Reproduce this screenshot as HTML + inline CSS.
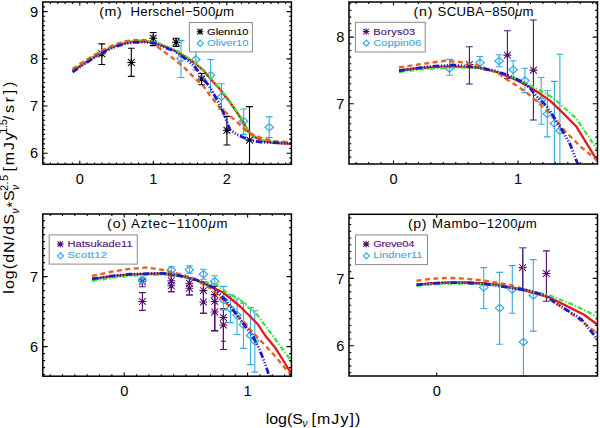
<!DOCTYPE html><html><head><meta charset="utf-8"><style>html,body{margin:0;padding:0;background:#fff}svg{display:block}</style></head><body><svg width="600" height="428" viewBox="0 0 600 428">
<style>text{font-family:"Liberation Sans",sans-serif}.tk{font-size:14.6px}.tt{font-size:12.7px}.lg{font-size:9.9px;stroke-width:0.12px}.ax{font-size:14.5px}.sb{font-size:10px}</style>
<rect width="600" height="428" fill="#fff"/>
<clipPath id="cm"><rect x="42.8" y="2.0" width="248.59999999999997" height="162.3"/></clipPath>
<clipPath id="cn"><rect x="349.0" y="2.0" width="248.5" height="162.0"/></clipPath>
<clipPath id="co"><rect x="42.8" y="214.0" width="248.59999999999997" height="162.2"/></clipPath>
<clipPath id="cp"><rect x="349.0" y="214.3" width="248.5" height="161.7"/></clipPath>
<path d="M101.8 43.9V64.5M98.39999999999999 43.9h6.8M98.39999999999999 64.5h6.8" stroke="#000" stroke-width="1.1" fill="none"/>
<path d="M98.20 53.70h7.20M101.80 50.10v7.20M98.70 50.60l6.19 6.19M98.70 56.80l6.19 -6.19" stroke="#000" stroke-width="1.05" fill="none" stroke-linecap="round"/><circle cx="101.80" cy="53.70" r="1.5" fill="#000"/>
<path d="M131.3 48.2V76.4M127.9 48.2h6.8M127.9 76.4h6.8" stroke="#000" stroke-width="1.1" fill="none"/>
<path d="M127.70 62.50h7.20M131.30 58.90v7.20M128.20 59.40l6.19 6.19M128.20 65.60l6.19 -6.19" stroke="#000" stroke-width="1.05" fill="none" stroke-linecap="round"/><circle cx="131.30" cy="62.50" r="1.5" fill="#000"/>
<path d="M153.2 32.5V45.6M149.79999999999998 32.5h6.8M149.79999999999998 45.6h6.8" stroke="#000" stroke-width="1.1" fill="none"/>
<path d="M149.60 38.30h7.20M153.20 34.70v7.20M150.10 35.20l6.19 6.19M150.10 41.40l6.19 -6.19" stroke="#000" stroke-width="1.05" fill="none" stroke-linecap="round"/><circle cx="153.20" cy="38.30" r="1.5" fill="#000"/>
<path d="M176.1 38.2V46.4M172.7 38.2h6.8M172.7 46.4h6.8" stroke="#000" stroke-width="1.1" fill="none"/>
<path d="M172.50 42.30h7.20M176.10 38.70v7.20M173.00 39.20l6.19 6.19M173.00 45.40l6.19 -6.19" stroke="#000" stroke-width="1.05" fill="none" stroke-linecap="round"/><circle cx="176.10" cy="42.30" r="1.5" fill="#000"/>
<path d="M201.6 73.5V84.8M198.2 73.5h6.8M198.2 84.8h6.8" stroke="#000" stroke-width="1.1" fill="none"/>
<path d="M198.00 79.00h7.20M201.60 75.40v7.20M198.50 75.90l6.19 6.19M198.50 82.10l6.19 -6.19" stroke="#000" stroke-width="1.05" fill="none" stroke-linecap="round"/><circle cx="201.60" cy="79.00" r="1.5" fill="#000"/>
<path d="M226.9 116.4V145.0M223.5 116.4h6.8M223.5 145.0h6.8" stroke="#000" stroke-width="1.1" fill="none"/>
<path d="M223.30 130.30h7.20M226.90 126.70v7.20M223.80 127.20l6.19 6.19M223.80 133.40l6.19 -6.19" stroke="#000" stroke-width="1.05" fill="none" stroke-linecap="round"/><circle cx="226.90" cy="130.30" r="1.5" fill="#000"/>
<path d="M249.5 106.6V164.3M246.1 106.6h6.8M246.1 164.3h6.8" stroke="#000" stroke-width="1.1" fill="none"/>
<path d="M245.90 140.10h7.20M249.50 136.50v7.20M246.40 137.00l6.19 6.19M246.40 143.20l6.19 -6.19" stroke="#000" stroke-width="1.05" fill="none" stroke-linecap="round"/><circle cx="249.50" cy="140.10" r="1.5" fill="#000"/>
<path d="M181.0 40.6V77.5M177.6 40.6h6.8M177.6 77.5h6.8" stroke="#36a9e1" stroke-width="1.1" fill="none"/>
<path d="M176.8 58.6L181.0 54.9L185.2 58.6L181.0 62.300000000000004Z" stroke="#36a9e1" stroke-width="1.2" fill="none"/>
<path d="M195.8 48.0V70.1M192.4 48.0h6.8M192.4 70.1h6.8" stroke="#36a9e1" stroke-width="1.1" fill="none"/>
<path d="M191.60000000000002 59.5L195.8 55.8L200.0 59.5L195.8 63.2Z" stroke="#36a9e1" stroke-width="1.2" fill="none"/>
<path d="M210.6 59.5V92.5M207.2 59.5h6.8M207.2 92.5h6.8" stroke="#36a9e1" stroke-width="1.1" fill="none"/>
<path d="M206.4 75.3L210.6 71.6L214.79999999999998 75.3L210.6 79.0Z" stroke="#36a9e1" stroke-width="1.2" fill="none"/>
<path d="M221.4 83.7V109.1M218.0 83.7h6.8M218.0 109.1h6.8" stroke="#36a9e1" stroke-width="1.1" fill="none"/>
<path d="M217.20000000000002 96.8L221.4 93.1L225.6 96.8L221.4 100.5Z" stroke="#36a9e1" stroke-width="1.2" fill="none"/>
<path d="M243.6 109.0V134.4M240.2 109.0h6.8M240.2 134.4h6.8" stroke="#36a9e1" stroke-width="1.1" fill="none"/>
<path d="M239.4 121.3L243.6 117.6L247.79999999999998 121.3L243.6 125.0Z" stroke="#36a9e1" stroke-width="1.2" fill="none"/>
<path d="M269.2 116.9V137.6M265.8 116.9h6.8M265.8 137.6h6.8" stroke="#36a9e1" stroke-width="1.1" fill="none"/>
<path d="M265.0 127.3L269.2 123.6L273.4 127.3L269.2 131.0Z" stroke="#36a9e1" stroke-width="1.2" fill="none"/>
<g clip-path="url(#cm)" fill="none" stroke-linejoin="round">
<path d="M72.5 71.2 L82.0 64.8 L92.0 58.3 L102.0 52.3 L110.0 48.2 L118.0 45.0 L126.0 42.8 L134.0 41.6 L145.0 41.3 L154.8 42.8 L164.6 46.4 L174.5 50.5 L184.3 56.2 L194.1 62.7 L203.9 70.9 L213.7 82.4 L219.6 88.8 L229.5 101.5 L236.4 111.5 L242.9 121.3 L247.8 131.1 L252.7 136.0 L262.6 140.9 L274.0 142.9 L292.0 143.9" stroke="#e31a1c" stroke-width="2.3"/>
<path d="M72.5 70.4 L82.0 64.0 L92.0 57.5 L102.0 51.5 L110.0 47.4 L118.0 44.2 L126.0 42.0 L134.0 40.8 L145.0 40.5 L154.8 42.0 L164.6 45.6 L174.5 49.7 L184.3 55.4 L194.1 61.9 L203.9 70.1 L213.7 81.6 L219.6 88.0 L229.5 100.7 L236.4 110.7 L242.9 120.5 L247.8 130.3 L252.7 135.2 L262.6 140.1 L274.0 142.1 L292.0 143.1" stroke="#3ee23a" stroke-width="2.3" stroke-dasharray="5 2 1.3 2"/>
<path d="M72.5 69.0 L82.0 62.7 L92.0 56.3 L102.0 50.5 L110.0 46.5 L118.0 43.4 L126.0 41.2 L134.0 40.1 L145.0 40.0 L154.8 44.7 L164.6 52.1 L174.5 59.5 L184.3 67.6 L194.1 77.5 L203.9 86.6 L209.8 95.2 L219.6 107.5 L226.5 113.0 L236.4 121.3 L246.2 131.1 L252.7 134.4 L262.6 138.5 L275.6 141.2 L292.0 142.6" stroke="#e8621e" stroke-width="2.4" stroke-dasharray="5 3.5"/>
<path d="M72.5 72.0 L82.0 65.6 L92.0 59.1 L102.0 53.1 L110.0 49.0 L118.0 45.8 L126.0 43.6 L134.0 42.4 L145.0 42.1 L154.8 43.3 L174.5 51.3 L184.3 57.8 L194.1 66.0 L203.9 79.1 L209.8 87.2 L219.6 104.2 L224.9 116.4 L229.8 129.5 L236.4 134.4 L249.5 140.1 L260.9 142.2 L292.0 143.4" stroke="#1a1acc" stroke-width="2.8" stroke-dasharray="6.5 1.8 1.1 1.8 1.1 1.8 1.1 1.8"/>
</g>
<rect x="189.4" y="22.5" width="63.0" height="29.4" fill="#fff" stroke="#8a8a8a" stroke-width="1"/>
<path d="M197.10 31.70h5.80M200.00 28.80v5.80M197.51 29.21l4.99 4.99M197.51 34.19l4.99 -4.99" stroke="#000" stroke-width="1.05" fill="none" stroke-linecap="round"/><circle cx="200.00" cy="31.70" r="1.5" fill="#000"/>
<path d="M197.2 43.4L200.2 40.4L203.2 43.4L200.2 46.4Z" stroke="#36a9e1" stroke-width="1.2" fill="none"/>
<text transform="translate(207.10,34.80) scale(1.13,1)" class="lg" fill="#000" stroke="#000" textLength="36.64" lengthAdjust="spacing">Glenn10</text>
<text transform="translate(207.10,45.90) scale(1.13,1)" class="lg" fill="#36a9e1" stroke="#36a9e1" textLength="36.64" lengthAdjust="spacing">Oliver10</text>
<text transform="translate(99.30,16.1) scale(1.12,1)" class="tt" textLength="20.00" lengthAdjust="spacing">(m)</text>
<text transform="translate(130.50,16.1) scale(1.04,1)" class="tt" textLength="99.52" lengthAdjust="spacing">Herschel−500<tspan font-style="italic">μ</tspan>m</text>
<path d="M469.4 46.7V84.0M466.0 46.7h6.8M466.0 84.0h6.8" stroke="#530f70" stroke-width="1.1" fill="none"/>
<path d="M465.80 64.50h7.20M469.40 60.90v7.20M466.30 61.40l6.19 6.19M466.30 67.60l6.19 -6.19" stroke="#530f70" stroke-width="1.05" fill="none" stroke-linecap="round"/><circle cx="469.40" cy="64.50" r="1.5" fill="#530f70"/>
<path d="M507.4 30.7V78.5M504.0 30.7h6.8M504.0 78.5h6.8" stroke="#530f70" stroke-width="1.1" fill="none"/>
<path d="M503.80 55.10h7.20M507.40 51.50v7.20M504.30 52.00l6.19 6.19M504.30 58.20l6.19 -6.19" stroke="#530f70" stroke-width="1.05" fill="none" stroke-linecap="round"/><circle cx="507.40" cy="55.10" r="1.5" fill="#530f70"/>
<path d="M533.4 20.0V120.0M530.0 20.0h6.8M530.0 120.0h6.8" stroke="#530f70" stroke-width="1.1" fill="none"/>
<path d="M529.80 70.10h7.20M533.40 66.50v7.20M530.30 67.00l6.19 6.19M530.30 73.20l6.19 -6.19" stroke="#530f70" stroke-width="1.05" fill="none" stroke-linecap="round"/><circle cx="533.40" cy="70.10" r="1.5" fill="#530f70"/>
<path d="M449.6 59.4V75.2M446.20000000000005 59.4h6.8M446.20000000000005 75.2h6.8" stroke="#36a9e1" stroke-width="1.1" fill="none"/>
<path d="M445.40000000000003 68.5L449.6 64.8L453.8 68.5L449.6 72.2Z" stroke="#36a9e1" stroke-width="1.2" fill="none"/>
<path d="M480.0 56.5V68.0M476.6 56.5h6.8M476.6 68.0h6.8" stroke="#36a9e1" stroke-width="1.1" fill="none"/>
<path d="M475.8 62.7L480.0 59.0L484.2 62.7L480.0 66.4Z" stroke="#36a9e1" stroke-width="1.2" fill="none"/>
<path d="M499.1 54.7V66.7M495.70000000000005 54.7h6.8M495.70000000000005 66.7h6.8" stroke="#36a9e1" stroke-width="1.1" fill="none"/>
<path d="M494.90000000000003 61.0L499.1 57.3L503.3 61.0L499.1 64.7Z" stroke="#36a9e1" stroke-width="1.2" fill="none"/>
<path d="M513.2 60.7V78.3M509.80000000000007 60.7h6.8M509.80000000000007 78.3h6.8" stroke="#36a9e1" stroke-width="1.1" fill="none"/>
<path d="M509.00000000000006 69.7L513.2 66.0L517.4000000000001 69.7L513.2 73.4Z" stroke="#36a9e1" stroke-width="1.2" fill="none"/>
<path d="M524.9 68.2V92.6M521.5 68.2h6.8M521.5 92.6h6.8" stroke="#36a9e1" stroke-width="1.1" fill="none"/>
<path d="M520.6999999999999 80.6L524.9 76.89999999999999L529.1 80.6L524.9 84.3Z" stroke="#36a9e1" stroke-width="1.2" fill="none"/>
<path d="M541.2 77.5V124.3M537.8000000000001 77.5h6.8M537.8000000000001 124.3h6.8" stroke="#36a9e1" stroke-width="1.1" fill="none"/>
<path d="M537.0 100.5L541.2 96.8L545.4000000000001 100.5L541.2 104.2Z" stroke="#36a9e1" stroke-width="1.2" fill="none"/>
<path d="M547.3 90.7V136.9M543.9 90.7h6.8M543.9 136.9h6.8" stroke="#36a9e1" stroke-width="1.1" fill="none"/>
<path d="M543.0999999999999 113.9L547.3 110.2L551.5 113.9L547.3 117.60000000000001Z" stroke="#36a9e1" stroke-width="1.2" fill="none"/>
<path d="M554.4 81.4V164.0M551.0 81.4h6.8M551.0 164.0h6.8" stroke="#36a9e1" stroke-width="1.1" fill="none"/>
<path d="M550.1999999999999 123.5L554.4 119.8L558.6 123.5L554.4 127.2Z" stroke="#36a9e1" stroke-width="1.2" fill="none"/>
<path d="M559.9 54.2V164.0M556.5 54.2h6.8M556.5 164.0h6.8" stroke="#36a9e1" stroke-width="1.1" fill="none"/>
<path d="M555.6999999999999 130.7L559.9 126.99999999999999L564.1 130.7L559.9 134.39999999999998Z" stroke="#36a9e1" stroke-width="1.2" fill="none"/>
<g clip-path="url(#cn)" fill="none" stroke-linejoin="round">
<path d="M399.0 70.5 L420.0 68.0 L449.0 66.3 L480.0 67.6 L498.2 72.5 L515.0 79.5 L530.5 87.3 L550.0 100.6 L560.0 110.1 L576.1 126.2 L598.0 162.0" stroke="#e31a1c" stroke-width="2.3"/>
<path d="M399.0 72.0 L420.0 69.5 L449.0 67.5 L480.0 67.8 L498.2 72.3 L515.0 78.5 L530.0 85.5 L540.0 90.5 L550.0 96.0 L556.0 100.5 L576.1 118.2 L598.0 151.0" stroke="#3ee23a" stroke-width="2.3" stroke-dasharray="5 2 1.3 2"/>
<path d="M399.0 67.5 L420.0 64.2 L445.0 60.8 L458.3 61.7 L470.0 64.2 L481.7 66.7 L498.2 73.2 L508.0 80.2 L519.3 87.3 L530.5 95.7 L544.5 108.3 L552.0 116.1 L566.1 132.2 L580.2 146.3 L598.0 161.0" stroke="#e8621e" stroke-width="2.4" stroke-dasharray="5 3.5"/>
<path d="M399.0 70.8 L428.3 66.7 L453.3 65.0 L470.0 66.7 L495.0 70.8 L510.0 76.0 L522.0 81.6 L530.0 88.0 L536.0 95.7 L540.0 99.5 L547.3 107.0 L552.0 114.0 L562.1 130.2 L570.1 144.3 L577.1 162.3 L579.0 167.0" stroke="#1a1acc" stroke-width="2.8" stroke-dasharray="6.5 1.8 1.1 1.8 1.1 1.8 1.1 1.8"/>
</g>
<rect x="355.4" y="22.3" width="69.80000000000001" height="29.7" fill="#fff" stroke="#8a8a8a" stroke-width="1"/>
<path d="M363.20 31.50h5.80M366.10 28.60v5.80M363.61 29.01l4.99 4.99M363.61 33.99l4.99 -4.99" stroke="#530f70" stroke-width="1.05" fill="none" stroke-linecap="round"/><circle cx="366.10" cy="31.50" r="1.5" fill="#530f70"/>
<path d="M363.3 43.2L366.3 40.2L369.3 43.2L366.3 46.2Z" stroke="#36a9e1" stroke-width="1.2" fill="none"/>
<text transform="translate(373.20,34.60) scale(1.13,1)" class="lg" fill="#530f70" stroke="#530f70" textLength="37.26" lengthAdjust="spacing">Borys03</text>
<text transform="translate(373.20,45.70) scale(1.13,1)" class="lg" fill="#36a9e1" stroke="#36a9e1" textLength="42.57" lengthAdjust="spacing">Coppin06</text>
<text transform="translate(413.60,16.1) scale(1.12,1)" class="tt" textLength="16.79" lengthAdjust="spacing">(n)</text>
<text transform="translate(437.60,16.1) scale(1.04,1)" class="tt" textLength="92.31" lengthAdjust="spacing">SCUBA−850<tspan font-style="italic">μ</tspan>m</text>
<path d="M142.4 279.0V286.7M139.0 279.0h6.8M139.0 286.7h6.8" stroke="#530f70" stroke-width="1.1" fill="none"/>
<path d="M138.80 281.70h7.20M142.40 278.10v7.20M139.30 278.60l6.19 6.19M139.30 284.80l6.19 -6.19" stroke="#530f70" stroke-width="1.05" fill="none" stroke-linecap="round"/><circle cx="142.40" cy="281.70" r="1.5" fill="#530f70"/>
<path d="M142.4 292.6V310.4M139.0 292.6h6.8M139.0 310.4h6.8" stroke="#530f70" stroke-width="1.1" fill="none"/>
<path d="M138.80 301.40h7.20M142.40 297.80v7.20M139.30 298.30l6.19 6.19M139.30 304.50l6.19 -6.19" stroke="#530f70" stroke-width="1.05" fill="none" stroke-linecap="round"/><circle cx="142.40" cy="301.40" r="1.5" fill="#530f70"/>
<path d="M171.3 275.8V291.7M167.9 275.8h6.8M167.9 291.7h6.8" stroke="#530f70" stroke-width="1.1" fill="none"/>
<path d="M167.70 280.80h7.20M171.30 277.20v7.20M168.20 277.70l6.19 6.19M168.20 283.90l6.19 -6.19" stroke="#530f70" stroke-width="1.05" fill="none" stroke-linecap="round"/><circle cx="171.30" cy="280.80" r="1.5" fill="#530f70"/>
<path d="M171.3 275.8V291.7M167.9 275.8h6.8M167.9 291.7h6.8" stroke="#530f70" stroke-width="1.1" fill="none"/>
<path d="M167.70 285.80h7.20M171.30 282.20v7.20M168.20 282.70l6.19 6.19M168.20 288.90l6.19 -6.19" stroke="#530f70" stroke-width="1.05" fill="none" stroke-linecap="round"/><circle cx="171.30" cy="285.80" r="1.5" fill="#530f70"/>
<path d="M189.4 278.3V295.0M186.0 278.3h6.8M186.0 295.0h6.8" stroke="#530f70" stroke-width="1.1" fill="none"/>
<path d="M185.80 283.30h7.20M189.40 279.70v7.20M186.30 280.20l6.19 6.19M186.30 286.40l6.19 -6.19" stroke="#530f70" stroke-width="1.05" fill="none" stroke-linecap="round"/><circle cx="189.40" cy="283.30" r="1.5" fill="#530f70"/>
<path d="M189.4 278.3V295.0M186.0 278.3h6.8M186.0 295.0h6.8" stroke="#530f70" stroke-width="1.1" fill="none"/>
<path d="M185.80 288.30h7.20M189.40 284.70v7.20M186.30 285.20l6.19 6.19M186.30 291.40l6.19 -6.19" stroke="#530f70" stroke-width="1.05" fill="none" stroke-linecap="round"/><circle cx="189.40" cy="288.30" r="1.5" fill="#530f70"/>
<path d="M203.4 281.7V313.3M200.0 281.7h6.8M200.0 313.3h6.8" stroke="#530f70" stroke-width="1.1" fill="none"/>
<path d="M199.80 290.60h7.20M203.40 287.00v7.20M200.30 287.50l6.19 6.19M200.30 293.70l6.19 -6.19" stroke="#530f70" stroke-width="1.05" fill="none" stroke-linecap="round"/><circle cx="203.40" cy="290.60" r="1.5" fill="#530f70"/>
<path d="M203.4 281.7V313.3M200.0 281.7h6.8M200.0 313.3h6.8" stroke="#530f70" stroke-width="1.1" fill="none"/>
<path d="M199.80 302.00h7.20M203.40 298.40v7.20M200.30 298.90l6.19 6.19M200.30 305.10l6.19 -6.19" stroke="#530f70" stroke-width="1.05" fill="none" stroke-linecap="round"/><circle cx="203.40" cy="302.00" r="1.5" fill="#530f70"/>
<path d="M214.7 286.5V330.6M211.29999999999998 286.5h6.8M211.29999999999998 330.6h6.8" stroke="#530f70" stroke-width="1.1" fill="none"/>
<path d="M211.10 294.60h7.20M214.70 291.00v7.20M211.60 291.50l6.19 6.19M211.60 297.70l6.19 -6.19" stroke="#530f70" stroke-width="1.05" fill="none" stroke-linecap="round"/><circle cx="214.70" cy="294.60" r="1.5" fill="#530f70"/>
<path d="M214.7 286.5V330.6M211.29999999999998 286.5h6.8M211.29999999999998 330.6h6.8" stroke="#530f70" stroke-width="1.1" fill="none"/>
<path d="M211.10 301.40h7.20M214.70 297.80v7.20M211.60 298.30l6.19 6.19M211.60 304.50l6.19 -6.19" stroke="#530f70" stroke-width="1.05" fill="none" stroke-linecap="round"/><circle cx="214.70" cy="301.40" r="1.5" fill="#530f70"/>
<path d="M214.7 286.5V330.6M211.29999999999998 286.5h6.8M211.29999999999998 330.6h6.8" stroke="#530f70" stroke-width="1.1" fill="none"/>
<path d="M211.10 312.00h7.20M214.70 308.40v7.20M211.60 308.90l6.19 6.19M211.60 315.10l6.19 -6.19" stroke="#530f70" stroke-width="1.05" fill="none" stroke-linecap="round"/><circle cx="214.70" cy="312.00" r="1.5" fill="#530f70"/>
<path d="M223.4 308.7V349.5M220.0 308.7h6.8M220.0 349.5h6.8" stroke="#530f70" stroke-width="1.1" fill="none"/>
<path d="M219.80 317.50h7.20M223.40 313.90v7.20M220.30 314.40l6.19 6.19M220.30 320.60l6.19 -6.19" stroke="#530f70" stroke-width="1.05" fill="none" stroke-linecap="round"/><circle cx="223.40" cy="317.50" r="1.5" fill="#530f70"/>
<path d="M223.4 308.7V349.5M220.0 308.7h6.8M220.0 349.5h6.8" stroke="#530f70" stroke-width="1.1" fill="none"/>
<path d="M219.80 325.00h7.20M223.40 321.40v7.20M220.30 321.90l6.19 6.19M220.30 328.10l6.19 -6.19" stroke="#530f70" stroke-width="1.05" fill="none" stroke-linecap="round"/><circle cx="223.40" cy="325.00" r="1.5" fill="#530f70"/>
<path d="M221 341.3h4.8" stroke="#530f70" stroke-width="1.1"/>
<path d="M142.4 277.5V283.5M139.0 277.5h6.8M139.0 283.5h6.8" stroke="#36a9e1" stroke-width="1.1" fill="none"/>
<path d="M138.20000000000002 280.0L142.4 276.3L146.6 280.0L142.4 283.7Z" stroke="#36a9e1" stroke-width="1.2" fill="none"/>
<path d="M171.3 266.7V272.5M167.9 266.7h6.8M167.9 272.5h6.8" stroke="#36a9e1" stroke-width="1.1" fill="none"/>
<path d="M167.10000000000002 270.0L171.3 266.3L175.5 270.0L171.3 273.7Z" stroke="#36a9e1" stroke-width="1.2" fill="none"/>
<path d="M189.4 265.8V273.3M186.0 265.8h6.8M186.0 273.3h6.8" stroke="#36a9e1" stroke-width="1.1" fill="none"/>
<path d="M185.20000000000002 269.7L189.4 266.0L193.6 269.7L189.4 273.4Z" stroke="#36a9e1" stroke-width="1.2" fill="none"/>
<path d="M203.4 269.2V279.2M200.0 269.2h6.8M200.0 279.2h6.8" stroke="#36a9e1" stroke-width="1.1" fill="none"/>
<path d="M199.20000000000002 274.2L203.4 270.5L207.6 274.2L203.4 277.9Z" stroke="#36a9e1" stroke-width="1.2" fill="none"/>
<path d="M214.7 275.8V285.0M211.29999999999998 275.8h6.8M211.29999999999998 285.0h6.8" stroke="#36a9e1" stroke-width="1.1" fill="none"/>
<path d="M210.5 281.3L214.7 277.6L218.89999999999998 281.3L214.7 285.0Z" stroke="#36a9e1" stroke-width="1.2" fill="none"/>
<path d="M223.6 286.4V310M220.2 286.4h6.8M220.2 310h6.8" stroke="#36a9e1" stroke-width="1.1" fill="none"/>
<path d="M219.4 300L223.6 296.3L227.79999999999998 300L223.6 303.7Z" stroke="#36a9e1" stroke-width="1.2" fill="none"/>
<path d="M230.5 294.7V322.6M227.1 294.7h6.8M227.1 322.6h6.8" stroke="#36a9e1" stroke-width="1.1" fill="none"/>
<path d="M226.3 308.7L230.5 305.0L234.7 308.7L230.5 312.4Z" stroke="#36a9e1" stroke-width="1.2" fill="none"/>
<path d="M237.0 299.0V334.5M233.6 299.0h6.8M233.6 334.5h6.8" stroke="#36a9e1" stroke-width="1.1" fill="none"/>
<path d="M232.8 315.1L237.0 311.40000000000003L241.2 315.1L237.0 318.8Z" stroke="#36a9e1" stroke-width="1.2" fill="none"/>
<path d="M243.4 303.3V348.4M240.0 303.3h6.8M240.0 348.4h6.8" stroke="#36a9e1" stroke-width="1.1" fill="none"/>
<path d="M239.20000000000002 324.8L243.4 321.1L247.6 324.8L243.4 328.5Z" stroke="#36a9e1" stroke-width="1.2" fill="none"/>
<path d="M250.5 307.6V364.6M247.1 307.6h6.8M247.1 364.6h6.8" stroke="#36a9e1" stroke-width="1.1" fill="none"/>
<path d="M246.3 335.5L250.5 331.8L254.7 335.5L250.5 339.2Z" stroke="#36a9e1" stroke-width="1.2" fill="none"/>
<path d="M254.8 310.8V372.1M251.4 310.8h6.8M251.4 372.1h6.8" stroke="#36a9e1" stroke-width="1.1" fill="none"/>
<path d="M250.60000000000002 340.9L254.8 337.2L259.0 340.9L254.8 344.59999999999997Z" stroke="#36a9e1" stroke-width="1.2" fill="none"/>
<g clip-path="url(#co)" fill="none" stroke-linejoin="round">
<path d="M92.0 279.3 L110.0 276.5 L127.0 274.8 L145.0 273.8 L163.0 273.5 L180.0 275.3 L196.7 280.2 L213.3 287.8 L223.0 292.5 L230.0 298.0 L240.2 306.5 L257.4 323.7 L266.0 336.6 L275.0 347.4 L283.0 360.0 L292.0 375.0" stroke="#e31a1c" stroke-width="2.3"/>
<path d="M92.0 280.9 L110.0 278.0 L127.0 276.0 L145.0 275.0 L164.8 274.6 L180.0 276.0 L196.7 280.0 L216.7 285.0 L230.0 294.8 L238.0 297.9 L257.4 315.1 L275.0 338.8 L292.0 362.0" stroke="#3ee23a" stroke-width="2.3" stroke-dasharray="5 2 1.3 2"/>
<path d="M92.0 276.0 L110.0 272.0 L127.0 269.2 L146.7 267.5 L163.3 270.0 L180.0 274.2 L193.3 278.3 L213.0 290.0 L231.6 308.7 L248.8 328.0 L262.0 342.0 L275.0 356.0 L292.0 376.5" stroke="#e8621e" stroke-width="2.4" stroke-dasharray="5 3.5"/>
<path d="M92.0 278.8 L110.0 276.2 L130.0 274.2 L163.3 273.3 L180.0 275.8 L196.7 280.0 L213.3 287.5 L227.3 302.2 L240.2 319.4 L253.0 336.6 L259.5 349.5 L264.5 362.0 L270.0 378.0" stroke="#1a1acc" stroke-width="2.8" stroke-dasharray="6.5 1.8 1.1 1.8 1.1 1.8 1.1 1.8"/>
</g>
<rect x="49.2" y="234.9" width="88.10000000000001" height="29.200000000000017" fill="#fff" stroke="#8a8a8a" stroke-width="1"/>
<path d="M57.40 244.10h5.80M60.30 241.20v5.80M57.81 241.61l4.99 4.99M57.81 246.59l4.99 -4.99" stroke="#530f70" stroke-width="1.05" fill="none" stroke-linecap="round"/><circle cx="60.30" cy="244.10" r="1.5" fill="#530f70"/>
<path d="M57.5 255.8L60.5 252.8L63.5 255.8L60.5 258.8Z" stroke="#36a9e1" stroke-width="1.2" fill="none"/>
<text transform="translate(67.40,247.20) scale(1.13,1)" class="lg" fill="#530f70" stroke="#530f70" textLength="57.70" lengthAdjust="spacing">Hatsukade11</text>
<text transform="translate(67.40,258.30) scale(1.13,1)" class="lg" fill="#36a9e1" stroke="#36a9e1" textLength="34.96" lengthAdjust="spacing">Scott12</text>
<text transform="translate(107.10,228.4) scale(1.12,1)" class="tt" textLength="17.23" lengthAdjust="spacing">(o)</text>
<text transform="translate(131.10,228.4) scale(1.04,1)" class="tt" textLength="92.69" lengthAdjust="spacing">Aztec−1100<tspan font-style="italic">μ</tspan>m</text>
<path d="M522.6 247.7V289.4M519.2 247.7h6.8M519.2 289.4h6.8" stroke="#530f70" stroke-width="1.1" fill="none"/>
<path d="M519.00 267.60h7.20M522.60 264.00v7.20M519.50 264.50l6.19 6.19M519.50 270.70l6.19 -6.19" stroke="#530f70" stroke-width="1.05" fill="none" stroke-linecap="round"/><circle cx="522.60" cy="267.60" r="1.5" fill="#530f70"/>
<path d="M546.4 250.9V301.3M543.0 250.9h6.8M543.0 301.3h6.8" stroke="#530f70" stroke-width="1.1" fill="none"/>
<path d="M542.80 273.50h7.20M546.40 269.90v7.20M543.30 270.40l6.19 6.19M543.30 276.60l6.19 -6.19" stroke="#530f70" stroke-width="1.05" fill="none" stroke-linecap="round"/><circle cx="546.40" cy="273.50" r="1.5" fill="#530f70"/>
<path d="M483.7 267.6V308.5M480.3 267.6h6.8M480.3 308.5h6.8" stroke="#36a9e1" stroke-width="1.1" fill="none"/>
<path d="M479.5 287.4L483.7 283.7L487.9 287.4L483.7 291.09999999999997Z" stroke="#36a9e1" stroke-width="1.2" fill="none"/>
<path d="M499.6 272.4V344.2M496.20000000000005 272.4h6.8M496.20000000000005 344.2h6.8" stroke="#36a9e1" stroke-width="1.1" fill="none"/>
<path d="M495.40000000000003 308.1L499.6 304.40000000000003L503.8 308.1L499.6 311.8Z" stroke="#36a9e1" stroke-width="1.2" fill="none"/>
<path d="M512.3 265.6V313.3M508.9 265.6h6.8M508.9 313.3h6.8" stroke="#36a9e1" stroke-width="1.1" fill="none"/>
<path d="M508.09999999999997 289.4L512.3 285.7L516.5 289.4L512.3 293.09999999999997Z" stroke="#36a9e1" stroke-width="1.2" fill="none"/>
<path d="M523.4 247.7V376.0M520.0 247.7h6.8M520.0 376.0h6.8" stroke="#36a9e1" stroke-width="1.1" fill="none"/>
<path d="M519.1999999999999 341.9L523.4 338.2L527.6 341.9L523.4 345.59999999999997Z" stroke="#36a9e1" stroke-width="1.2" fill="none"/>
<path d="M533.3 259.6V331.1M529.9 259.6h6.8M529.9 331.1h6.8" stroke="#36a9e1" stroke-width="1.1" fill="none"/>
<path d="M529.0999999999999 295.4L533.3 291.7L537.5 295.4L533.3 299.09999999999997Z" stroke="#36a9e1" stroke-width="1.2" fill="none"/>
<g clip-path="url(#cp)" fill="none" stroke-linejoin="round">
<path d="M416.5 284.9 L430.0 283.5 L447.4 282.6 L466.0 282.5 L484.8 283.5 L500.0 284.9 L528.0 291.4 L548.6 297.0 L565.4 305.4 L584.1 314.8 L598.0 325.0" stroke="#e31a1c" stroke-width="2.3"/>
<path d="M416.5 285.8 L430.0 284.5 L447.4 283.6 L466.0 283.5 L484.8 284.2 L500.0 285.5 L528.0 290.5 L548.6 295.1 L574.8 305.4 L598.0 317.0" stroke="#3ee23a" stroke-width="2.3" stroke-dasharray="5 2 1.3 2"/>
<path d="M416.5 280.7 L430.0 279.0 L447.4 277.8 L466.0 278.7 L484.8 280.7 L510.0 284.9 L528.0 290.5 L546.7 297.0 L556.0 303.0 L574.8 316.0 L598.0 334.0" stroke="#e8621e" stroke-width="2.4" stroke-dasharray="5 3.5"/>
<path d="M416.5 284.9 L430.0 283.5 L447.4 282.6 L466.0 282.8 L484.8 283.9 L510.0 287.7 L528.0 290.5 L546.7 296.0 L556.0 303.6 L574.8 314.8 L582.0 320.0 L598.0 340.0" stroke="#1a1acc" stroke-width="2.8" stroke-dasharray="6.5 1.8 1.1 1.8 1.1 1.8 1.1 1.8"/>
</g>
<rect x="355.5" y="234.9" width="72.0" height="29.700000000000017" fill="#fff" stroke="#8a8a8a" stroke-width="1"/>
<path d="M363.20 244.10h5.80M366.10 241.20v5.80M363.61 241.61l4.99 4.99M363.61 246.59l4.99 -4.99" stroke="#530f70" stroke-width="1.05" fill="none" stroke-linecap="round"/><circle cx="366.10" cy="244.10" r="1.5" fill="#530f70"/>
<path d="M363.3 255.8L366.3 252.8L369.3 255.8L366.3 258.8Z" stroke="#36a9e1" stroke-width="1.2" fill="none"/>
<text transform="translate(373.20,247.20) scale(1.13,1)" class="lg" fill="#530f70" stroke="#530f70" textLength="36.46" lengthAdjust="spacing">Greve04</text>
<text transform="translate(373.20,258.30) scale(1.13,1)" class="lg" fill="#36a9e1" stroke="#36a9e1" textLength="43.72" lengthAdjust="spacing">Lindner11</text>
<text transform="translate(408.10,228.4) scale(1.12,1)" class="tt" textLength="16.34" lengthAdjust="spacing">(p)</text>
<text transform="translate(432.10,228.4) scale(1.04,1)" class="tt" textLength="100.67" lengthAdjust="spacing">Mambo−1200<tspan font-style="italic">μ</tspan>m</text>
<rect x="42.8" y="2.0" width="248.59999999999997" height="162.3" fill="none" stroke="#000" stroke-width="1.5"/>
<path d="M50.40 164.3v-1.9M50.40 2.0v1.9M57.75 164.3v-1.9M57.75 2.0v1.9M65.10 164.3v-1.9M65.10 2.0v1.9M72.45 164.3v-1.9M72.45 2.0v1.9M79.80 164.3v-3.6M79.80 2.0v3.6M87.15 164.3v-1.9M87.15 2.0v1.9M94.50 164.3v-1.9M94.50 2.0v1.9M101.85 164.3v-1.9M101.85 2.0v1.9M109.20 164.3v-1.9M109.20 2.0v1.9M116.55 164.3v-1.9M116.55 2.0v1.9M123.90 164.3v-1.9M123.90 2.0v1.9M131.25 164.3v-1.9M131.25 2.0v1.9M138.60 164.3v-1.9M138.60 2.0v1.9M145.95 164.3v-1.9M145.95 2.0v1.9M153.30 164.3v-3.6M153.30 2.0v3.6M160.65 164.3v-1.9M160.65 2.0v1.9M168.00 164.3v-1.9M168.00 2.0v1.9M175.35 164.3v-1.9M175.35 2.0v1.9M182.70 164.3v-1.9M182.70 2.0v1.9M190.05 164.3v-1.9M190.05 2.0v1.9M197.40 164.3v-1.9M197.40 2.0v1.9M204.75 164.3v-1.9M204.75 2.0v1.9M212.10 164.3v-1.9M212.10 2.0v1.9M219.45 164.3v-1.9M219.45 2.0v1.9M226.80 164.3v-3.6M226.80 2.0v3.6M234.15 164.3v-1.9M234.15 2.0v1.9M241.50 164.3v-1.9M241.50 2.0v1.9M248.85 164.3v-1.9M248.85 2.0v1.9M256.20 164.3v-1.9M256.20 2.0v1.9M263.55 164.3v-1.9M263.55 2.0v1.9M270.90 164.3v-1.9M270.90 2.0v1.9M278.25 164.3v-1.9M278.25 2.0v1.9M285.60 164.3v-1.9M285.60 2.0v1.9M42.8 162.74h2.3M291.4 162.74h-2.3M42.8 158.01h2.3M291.4 158.01h-2.3M42.8 153.29h4.8M291.4 153.29h-4.8M42.8 148.57h2.3M291.4 148.57h-2.3M42.8 143.84h2.3M291.4 143.84h-2.3M42.8 139.12h2.3M291.4 139.12h-2.3M42.8 134.40h2.3M291.4 134.40h-2.3M42.8 129.67h2.3M291.4 129.67h-2.3M42.8 124.95h2.3M291.4 124.95h-2.3M42.8 120.23h2.3M291.4 120.23h-2.3M42.8 115.51h2.3M291.4 115.51h-2.3M42.8 110.78h2.3M291.4 110.78h-2.3M42.8 106.06h4.8M291.4 106.06h-4.8M42.8 101.34h2.3M291.4 101.34h-2.3M42.8 96.61h2.3M291.4 96.61h-2.3M42.8 91.89h2.3M291.4 91.89h-2.3M42.8 87.17h2.3M291.4 87.17h-2.3M42.8 82.44h2.3M291.4 82.44h-2.3M42.8 77.72h2.3M291.4 77.72h-2.3M42.8 73.00h2.3M291.4 73.00h-2.3M42.8 68.28h2.3M291.4 68.28h-2.3M42.8 63.55h2.3M291.4 63.55h-2.3M42.8 58.83h4.8M291.4 58.83h-4.8M42.8 54.11h2.3M291.4 54.11h-2.3M42.8 49.38h2.3M291.4 49.38h-2.3M42.8 44.66h2.3M291.4 44.66h-2.3M42.8 39.94h2.3M291.4 39.94h-2.3M42.8 35.21h2.3M291.4 35.21h-2.3M42.8 30.49h2.3M291.4 30.49h-2.3M42.8 25.77h2.3M291.4 25.77h-2.3M42.8 21.05h2.3M291.4 21.05h-2.3M42.8 16.32h2.3M291.4 16.32h-2.3M42.8 11.60h4.8M291.4 11.60h-4.8M42.8 6.88h2.3M291.4 6.88h-2.3" stroke="#000" stroke-width="1.1" fill="none"/>
<text x="79.80" y="183.90" text-anchor="middle" class="tk">0</text>
<text x="153.30" y="183.90" text-anchor="middle" class="tk">1</text>
<text x="226.80" y="183.90" text-anchor="middle" class="tk">2</text>
<text x="38.20" y="158.49" text-anchor="end" class="tk">6</text>
<text x="38.20" y="111.26" text-anchor="end" class="tk">7</text>
<text x="38.20" y="64.03" text-anchor="end" class="tk">8</text>
<text x="38.20" y="16.80" text-anchor="end" class="tk">9</text>
<rect x="349.0" y="2.0" width="248.5" height="162.0" fill="none" stroke="#000" stroke-width="1.5"/>
<path d="M356.15 164.0v-1.9M356.15 2.0v1.9M368.60 164.0v-1.9M368.60 2.0v1.9M381.05 164.0v-1.9M381.05 2.0v1.9M393.50 164.0v-3.6M393.50 2.0v3.6M405.95 164.0v-1.9M405.95 2.0v1.9M418.40 164.0v-1.9M418.40 2.0v1.9M430.85 164.0v-1.9M430.85 2.0v1.9M443.30 164.0v-1.9M443.30 2.0v1.9M455.75 164.0v-1.9M455.75 2.0v1.9M468.20 164.0v-1.9M468.20 2.0v1.9M480.65 164.0v-1.9M480.65 2.0v1.9M493.10 164.0v-1.9M493.10 2.0v1.9M505.55 164.0v-1.9M505.55 2.0v1.9M518.00 164.0v-3.6M518.00 2.0v3.6M530.45 164.0v-1.9M530.45 2.0v1.9M542.90 164.0v-1.9M542.90 2.0v1.9M555.35 164.0v-1.9M555.35 2.0v1.9M567.80 164.0v-1.9M567.80 2.0v1.9M580.25 164.0v-1.9M580.25 2.0v1.9M592.70 164.0v-1.9M592.70 2.0v1.9M349.0 157.16h2.3M597.5 157.16h-2.3M349.0 150.49h2.3M597.5 150.49h-2.3M349.0 143.82h2.3M597.5 143.82h-2.3M349.0 137.15h2.3M597.5 137.15h-2.3M349.0 130.48h2.3M597.5 130.48h-2.3M349.0 123.81h2.3M597.5 123.81h-2.3M349.0 117.14h2.3M597.5 117.14h-2.3M349.0 110.47h2.3M597.5 110.47h-2.3M349.0 103.80h4.8M597.5 103.80h-4.8M349.0 97.13h2.3M597.5 97.13h-2.3M349.0 90.46h2.3M597.5 90.46h-2.3M349.0 83.79h2.3M597.5 83.79h-2.3M349.0 77.12h2.3M597.5 77.12h-2.3M349.0 70.45h2.3M597.5 70.45h-2.3M349.0 63.78h2.3M597.5 63.78h-2.3M349.0 57.11h2.3M597.5 57.11h-2.3M349.0 50.44h2.3M597.5 50.44h-2.3M349.0 43.77h2.3M597.5 43.77h-2.3M349.0 37.10h4.8M597.5 37.10h-4.8M349.0 30.43h2.3M597.5 30.43h-2.3M349.0 23.76h2.3M597.5 23.76h-2.3M349.0 17.09h2.3M597.5 17.09h-2.3M349.0 10.42h2.3M597.5 10.42h-2.3M349.0 3.75h2.3M597.5 3.75h-2.3" stroke="#000" stroke-width="1.1" fill="none"/>
<text x="393.50" y="183.60" text-anchor="middle" class="tk">0</text>
<text x="518.00" y="183.60" text-anchor="middle" class="tk">1</text>
<text x="344.40" y="109.00" text-anchor="end" class="tk">7</text>
<text x="344.40" y="42.30" text-anchor="end" class="tk">8</text>
<rect x="42.8" y="214.0" width="248.59999999999997" height="162.2" fill="none" stroke="#000" stroke-width="1.5"/>
<path d="M50.16 376.2v-1.9M50.16 214.0v1.9M62.50 376.2v-1.9M62.50 214.0v1.9M74.84 376.2v-1.9M74.84 214.0v1.9M87.18 376.2v-1.9M87.18 214.0v1.9M99.52 376.2v-1.9M99.52 214.0v1.9M111.86 376.2v-1.9M111.86 214.0v1.9M124.20 376.2v-3.6M124.20 214.0v3.6M136.54 376.2v-1.9M136.54 214.0v1.9M148.88 376.2v-1.9M148.88 214.0v1.9M161.22 376.2v-1.9M161.22 214.0v1.9M173.56 376.2v-1.9M173.56 214.0v1.9M185.90 376.2v-1.9M185.90 214.0v1.9M198.24 376.2v-1.9M198.24 214.0v1.9M210.58 376.2v-1.9M210.58 214.0v1.9M222.92 376.2v-1.9M222.92 214.0v1.9M235.26 376.2v-1.9M235.26 214.0v1.9M247.60 376.2v-3.6M247.60 214.0v3.6M259.94 376.2v-1.9M259.94 214.0v1.9M272.28 376.2v-1.9M272.28 214.0v1.9M284.62 376.2v-1.9M284.62 214.0v1.9M42.8 374.60h2.3M291.4 374.60h-2.3M42.8 367.60h2.3M291.4 367.60h-2.3M42.8 360.60h2.3M291.4 360.60h-2.3M42.8 353.60h2.3M291.4 353.60h-2.3M42.8 346.60h4.8M291.4 346.60h-4.8M42.8 339.60h2.3M291.4 339.60h-2.3M42.8 332.60h2.3M291.4 332.60h-2.3M42.8 325.60h2.3M291.4 325.60h-2.3M42.8 318.60h2.3M291.4 318.60h-2.3M42.8 311.60h2.3M291.4 311.60h-2.3M42.8 304.60h2.3M291.4 304.60h-2.3M42.8 297.60h2.3M291.4 297.60h-2.3M42.8 290.60h2.3M291.4 290.60h-2.3M42.8 283.60h2.3M291.4 283.60h-2.3M42.8 276.60h4.8M291.4 276.60h-4.8M42.8 269.60h2.3M291.4 269.60h-2.3M42.8 262.60h2.3M291.4 262.60h-2.3M42.8 255.60h2.3M291.4 255.60h-2.3M42.8 248.60h2.3M291.4 248.60h-2.3M42.8 241.60h2.3M291.4 241.60h-2.3M42.8 234.60h2.3M291.4 234.60h-2.3M42.8 227.60h2.3M291.4 227.60h-2.3M42.8 220.60h2.3M291.4 220.60h-2.3" stroke="#000" stroke-width="1.1" fill="none"/>
<text x="124.20" y="395.80" text-anchor="middle" class="tk">0</text>
<text x="247.60" y="395.80" text-anchor="middle" class="tk">1</text>
<text x="38.20" y="351.80" text-anchor="end" class="tk">6</text>
<text x="38.20" y="281.80" text-anchor="end" class="tk">7</text>
<rect x="349.0" y="214.3" width="248.5" height="161.7" fill="none" stroke="#000" stroke-width="1.5"/>
<path d="M436.70 376.0v-3.6M436.70 214.3v3.6M349.0 372.62h2.3M597.5 372.62h-2.3M349.0 365.89h2.3M597.5 365.89h-2.3M349.0 359.16h2.3M597.5 359.16h-2.3M349.0 352.43h2.3M597.5 352.43h-2.3M349.0 345.70h4.8M597.5 345.70h-4.8M349.0 338.97h2.3M597.5 338.97h-2.3M349.0 332.24h2.3M597.5 332.24h-2.3M349.0 325.51h2.3M597.5 325.51h-2.3M349.0 318.78h2.3M597.5 318.78h-2.3M349.0 312.05h2.3M597.5 312.05h-2.3M349.0 305.32h2.3M597.5 305.32h-2.3M349.0 298.59h2.3M597.5 298.59h-2.3M349.0 291.86h2.3M597.5 291.86h-2.3M349.0 285.13h2.3M597.5 285.13h-2.3M349.0 278.40h4.8M597.5 278.40h-4.8M349.0 271.67h2.3M597.5 271.67h-2.3M349.0 264.94h2.3M597.5 264.94h-2.3M349.0 258.21h2.3M597.5 258.21h-2.3M349.0 251.48h2.3M597.5 251.48h-2.3M349.0 244.75h2.3M597.5 244.75h-2.3M349.0 238.02h2.3M597.5 238.02h-2.3M349.0 231.29h2.3M597.5 231.29h-2.3M349.0 224.56h2.3M597.5 224.56h-2.3M349.0 217.83h2.3M597.5 217.83h-2.3" stroke="#000" stroke-width="1.1" fill="none"/>
<text x="436.70" y="395.60" text-anchor="middle" class="tk">0</text>
<text x="344.40" y="350.90" text-anchor="end" class="tk">6</text>
<text x="344.40" y="283.60" text-anchor="end" class="tk">7</text>
<text transform="translate(265.80,423.5) scale(1.1,1)" class="ax" textLength="33.64" lengthAdjust="spacing" >log(S</text>
<text x="302.6" y="427" class="sb" font-style="italic">ν</text>
<text transform="translate(311.50,423.5) scale(1.1,1)" class="ax" textLength="44.36" lengthAdjust="spacing" >[mJy])</text>
<text transform="translate(14.3,293.70) rotate(-90) scale(1.1,1)" class="ax" textLength="72.27" lengthAdjust="spacing">log(dN/dS</text>
<text transform="translate(19.2,300) rotate(-90)" x="86.40" y="0" class="sb" font-style="italic">ν</text>
<text transform="translate(17.4,300) rotate(-90)" x="92.40" y="0" class="ax">*</text>
<text transform="translate(14.3,200.90) rotate(-90) scale(1.1,1)" class="ax" textLength="9.18" lengthAdjust="spacing">S</text>
<text transform="translate(19.2,300) rotate(-90)" x="109.90" y="0" class="sb" font-style="italic">ν</text>
<text transform="translate(7.6,191.10) rotate(-90) scale(1.1,1)" class="sb" textLength="14.73" lengthAdjust="spacing">2.5</text>
<text transform="translate(14.3,171.60) rotate(-90) scale(1.1,1)" class="ax" textLength="35.82" lengthAdjust="spacing">[mJy</text>
<text transform="translate(7.0,133.70) rotate(-90) scale(1.1,1)" class="sb" textLength="13.36" lengthAdjust="spacing">1.5</text>
<text transform="translate(14.3,120.20) rotate(-90) scale(1.1,1)" class="ax" textLength="34.91" lengthAdjust="spacing">/sr])</text>
</svg></body></html>
